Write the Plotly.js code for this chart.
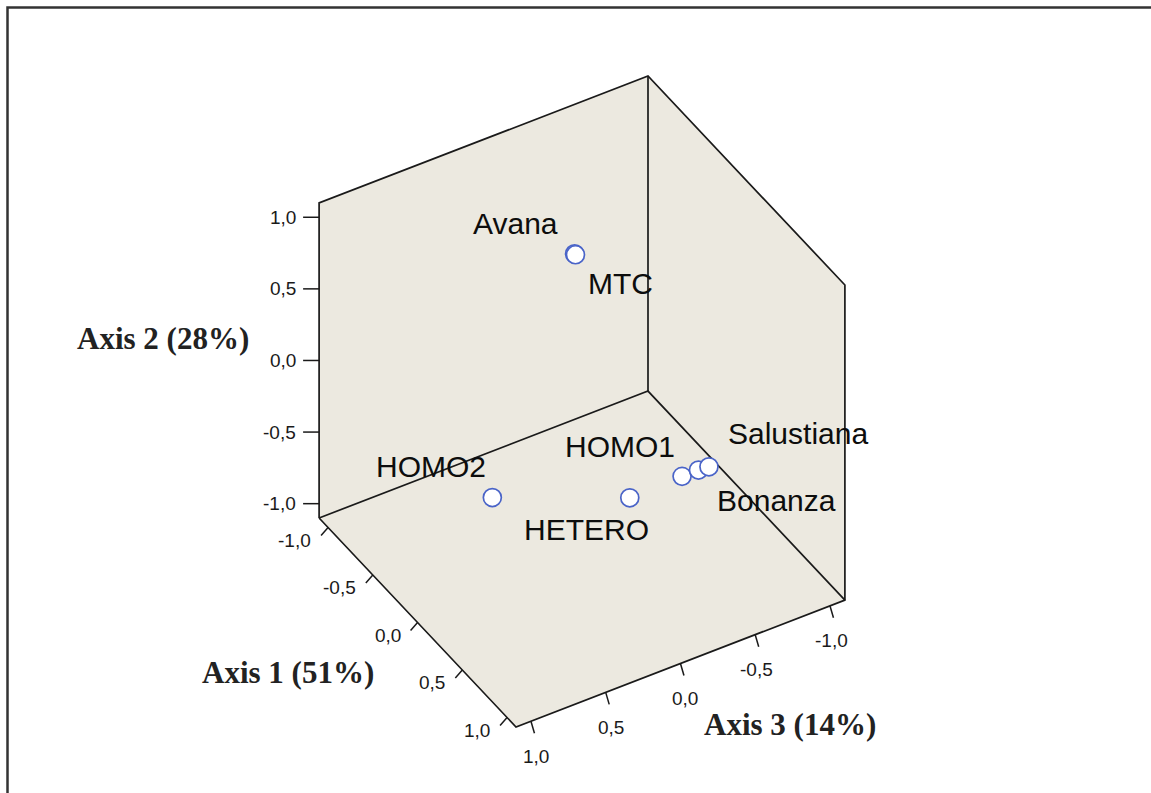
<!DOCTYPE html>
<html>
<head>
<meta charset="utf-8">
<script src="https://cdn.plot.ly/plotly-3.0.1.min.js"></script>
<style>html,body{margin:0;padding:0;background:#fff;}#chart{width:1151px;height:793px;}</style>
</head>
<body>
<div id="chart"></div>
<script>
// ---- data ----
const names   = ["Avana", "MTC", "HOMO2", "HETERO", "HOMO1", "Bonanza", "Salustiana"];
const axis1   = [-0.30, -0.29, -0.20,  0.30,  0.50,  0.60,  0.65];
const axis2   = [ 0.78,  0.78, -0.61, -0.53, -0.34, -0.25, -0.21];
const axis3   = [-0.13, -0.13,  0.48, -0.14, -0.37, -0.42, -0.46];
const tickVals = [-1, -0.5, 0, 0.5, 1];
const tickText = ["-1,0", "-0,5", "0,0", "0,5", "1,0"];
const title1 = "Axis 1 (51%)";
const title2 = "Axis 2 (28%)";
const title3 = "Axis 3 (14%)";
const axRange = [-1.1, 1.1];

// ---- view (oblique projection of the 3-D box onto the page, in pixels) ----
const view = {cx: 582, cy: 401.5, u1: [89.5, 95], u2: 143.2, u3: [-149.5, 57.7]};
// label offsets in pixels, one per point (style, not data)
const labelDx = [-59, 45, -61, -43, -62, 78, 89];
const labelDy = [-30, 29, -31, 32, -30, 30, -33];

function proj(a1, a2, a3) {
  return [view.cx + view.u1[0] * a1 + view.u3[0] * a3,
          view.cy + view.u1[1] * a1 - view.u2 * a2 + view.u3[1] * a3];
}
const lo = axRange[0], hi = axRange[1];

// walls (the three back faces make one hexagon outline)
const wallPts = [proj(lo, lo, hi), proj(lo, hi, hi), proj(lo, hi, lo), proj(hi, hi, lo), proj(hi, lo, lo), proj(hi, lo, hi), proj(lo, lo, hi)];
// edges of the back faces
const edgeSegs = [
  [proj(lo, lo, hi), proj(lo, hi, hi), proj(lo, hi, lo), proj(hi, hi, lo), proj(hi, lo, lo), proj(hi, lo, hi), proj(lo, lo, hi)],
  [proj(lo, hi, lo), proj(lo, lo, lo)],
  [proj(lo, lo, hi), proj(lo, lo, lo), proj(hi, lo, lo)]
];
const ex = [], ey = [];
edgeSegs.forEach(seg => { seg.forEach(p => { ex.push(p[0]); ey.push(p[1]); }); ex.push(null); ey.push(null); });

// tick marks
const tx = [], ty = [];
const annotations = [];
const tickFont = {family: "Liberation Sans, Arial, sans-serif", size: 19, color: "#1a1a1a"};
tickVals.forEach((v, i) => {
  // Axis 2 on the left vertical edge
  let b = proj(lo, v, hi);
  tx.push(b[0], b[0] - 16, null); ty.push(b[1], b[1], null);
  annotations.push({x: b[0] - 21, y: b[1], text: tickText[i], xanchor: "right", yanchor: "middle", showarrow: false, font: tickFont});
  // Axis 1 on the front-left floor edge
  b = proj(v, lo, hi);
  tx.push(b[0], b[0] - 7, null); ty.push(b[1], b[1] + 8, null);
  annotations.push({x: b[0] - 15, y: b[1] + 13, text: tickText[i], xanchor: "right", yanchor: "middle", showarrow: false, font: tickFont});
  // Axis 3 on the front-right floor edge
  b = proj(hi, lo, v);
  tx.push(b[0], b[0] + 3.5, null); ty.push(b[1], b[1] + 12, null);
  annotations.push({x: b[0] + 20, y: b[1] + 35, text: tickText[i], xanchor: "right", yanchor: "middle", showarrow: false, font: tickFont});
});

// axis titles
const titleFont = {family: "Liberation Serif, Times New Roman, serif", size: 31, color: "#222", weight: "bold"};
let m = proj(lo, 0, hi);
annotations.push({x: m[0] - 68, y: m[1] - 22, text: title2, xanchor: "right", yanchor: "middle", showarrow: false, font: titleFont});
m = proj(0, lo, hi);
annotations.push({x: m[0] - 42, y: m[1] + 50, text: title1, xanchor: "right", yanchor: "middle", showarrow: false, font: titleFont});
m = proj(hi, lo, 0);
annotations.push({x: m[0] + 22, y: m[1] + 61, text: title3, xanchor: "left", yanchor: "middle", showarrow: false, font: titleFont});

// points
const px = [], py = [];
names.forEach((n, i) => {
  const p = proj(axis1[i], axis2[i], axis3[i]);
  px.push(p[0]); py.push(p[1]);
  annotations.push({x: p[0] + labelDx[i], y: p[1] + labelDy[i], text: n, xanchor: "center", yanchor: "middle", showarrow: false,
    font: {family: "Liberation Sans, Arial, sans-serif", size: 30, color: "#0d0d0d"}});
});

const traces = [
  {type: "scatter", mode: "lines", x: wallPts.map(p => p[0]), y: wallPts.map(p => p[1]), fill: "toself",
   fillcolor: "#ECE9E0", line: {width: 0, color: "rgba(0,0,0,0)"}, hoverinfo: "skip"},
  {type: "scatter", mode: "lines", x: ex, y: ey, connectgaps: false, line: {color: "#1a1a1a", width: 1.7}, hoverinfo: "skip"},
  {type: "scatter", mode: "lines", x: tx, y: ty, connectgaps: false, line: {color: "#1a1a1a", width: 1.5}, hoverinfo: "skip"},
  {type: "scatter", mode: "markers", x: px, y: py, text: names,
   marker: {size: 18, color: "#ffffff", line: {color: "#4a64c8", width: 1.7}}}
];

const layout = {
  width: 1151, height: 793,
  margin: {l: 0, r: 0, t: 0, b: 0},
  paper_bgcolor: "#ffffff", plot_bgcolor: "rgba(0,0,0,0)",
  showlegend: false,
  xaxis: {range: [0, 1151], visible: false, fixedrange: true},
  yaxis: {range: [793, 0], visible: false, fixedrange: true},
  annotations: annotations,
  shapes: [{type: "rect", xref: "paper", yref: "paper", x0: 7.5 / 1151, x1: 1.05, y0: -0.05, y1: 1 - 7.5 / 793,
            line: {color: "#333", width: 2.5}, fillcolor: "rgba(0,0,0,0)"}]
};

Plotly.newPlot("chart", traces, layout, {displayModeBar: false, staticPlot: true});
</script>
</body>
</html>
